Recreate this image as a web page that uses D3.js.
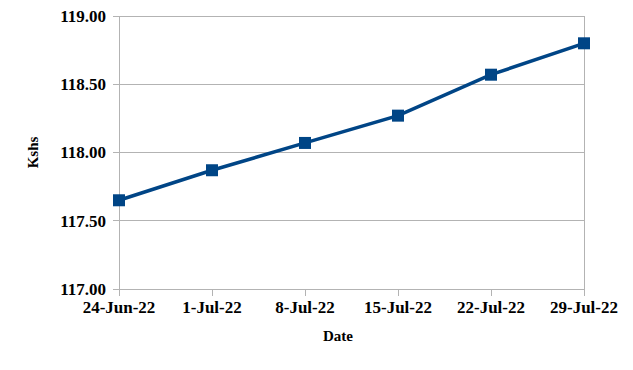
<!DOCTYPE html>
<html><head><meta charset="utf-8">
<script src="https://cdn.jsdelivr.net/npm/d3@7"></script>
<style>body{margin:0;background:#fff}</style>
</head><body><svg id="c" width="633" height="370"></svg>
<script>
const categories = ["24-Jun-22","1-Jul-22","8-Jul-22","15-Jul-22","22-Jul-22","29-Jul-22"];
const values = [117.65, 117.87, 118.07, 118.27, 118.57, 118.80];
const yTicks = [117.00, 117.50, 118.00, 118.50, 119.00];

const FONT = "Liberation Serif, DejaVu Serif, serif";
const svg = d3.select("#c").attr("font-family", FONT).attr("font-weight", "bold");
const m = {l:119, r:584, t:16, b:289};
const x = d3.scalePoint().domain(categories).range([m.l, m.r]);
const y = d3.scaleLinear().domain([117, 119]).range([m.b, m.t]);
const grid = "#b3b3b3";

svg.append("g").selectAll("line").data(yTicks).join("line")
  .attr("x1", m.l - 6).attr("x2", m.r).attr("y1", d => y(d)).attr("y2", d => y(d))
  .attr("stroke", grid).attr("stroke-width", 1).attr("shape-rendering","crispEdges");
svg.append("line").attr("x1", m.r).attr("x2", m.r).attr("y1", m.t).attr("y2", m.b + 7)
  .attr("stroke", grid).attr("shape-rendering","crispEdges");
svg.append("line").attr("x1", m.l).attr("x2", m.l).attr("y1", m.t).attr("y2", m.b + 7)
  .attr("stroke", grid).attr("shape-rendering","crispEdges");
svg.append("g").selectAll("line").data(categories).join("line")
  .attr("x1", d => x(d)).attr("x2", d => x(d)).attr("y1", m.b).attr("y2", m.b + 7)
  .attr("stroke", grid).attr("shape-rendering","crispEdges");

svg.append("g").selectAll("text").data(yTicks).join("text")
  .attr("x", m.l - 13).attr("y", d => y(d)).attr("dy", "0.35em")
  .attr("text-anchor", "end").attr("font-size", 17).attr("font-family", FONT).attr("font-weight","bold")
  .text(d => d.toFixed(2));
svg.append("g").selectAll("text").data(categories).join("text")
  .attr("x", d => x(d)).attr("y", m.b + 24)
  .attr("text-anchor", "middle").attr("font-size", 17).attr("font-family", FONT).attr("font-weight","bold")
  .text(d => d);

svg.append("text").attr("transform", `translate(38,${(m.t+m.b)/2}) rotate(-90)`)
  .attr("text-anchor","middle").attr("font-size", 15).attr("font-family", FONT).attr("font-weight","bold").text("Kshs");
svg.append("text").attr("x", 338).attr("y", 341)
  .attr("text-anchor","middle").attr("font-size", 15).attr("font-family", FONT).attr("font-weight","bold").text("Date");

const color = "#004586";
svg.append("path").datum(values.map((v,i)=>[categories[i], v]))
  .attr("fill","none").attr("stroke", color).attr("stroke-width", 3.5)
  .attr("d", d3.line().x(d => x(d[0])).y(d => y(d[1])));
svg.append("g").selectAll("rect").data(values).join("rect")
  .attr("x", (d,i) => x(categories[i]) - 6).attr("y", d => y(d) - 6)
  .attr("width", 12).attr("height", 12).attr("fill", color);
</script></body></html>
